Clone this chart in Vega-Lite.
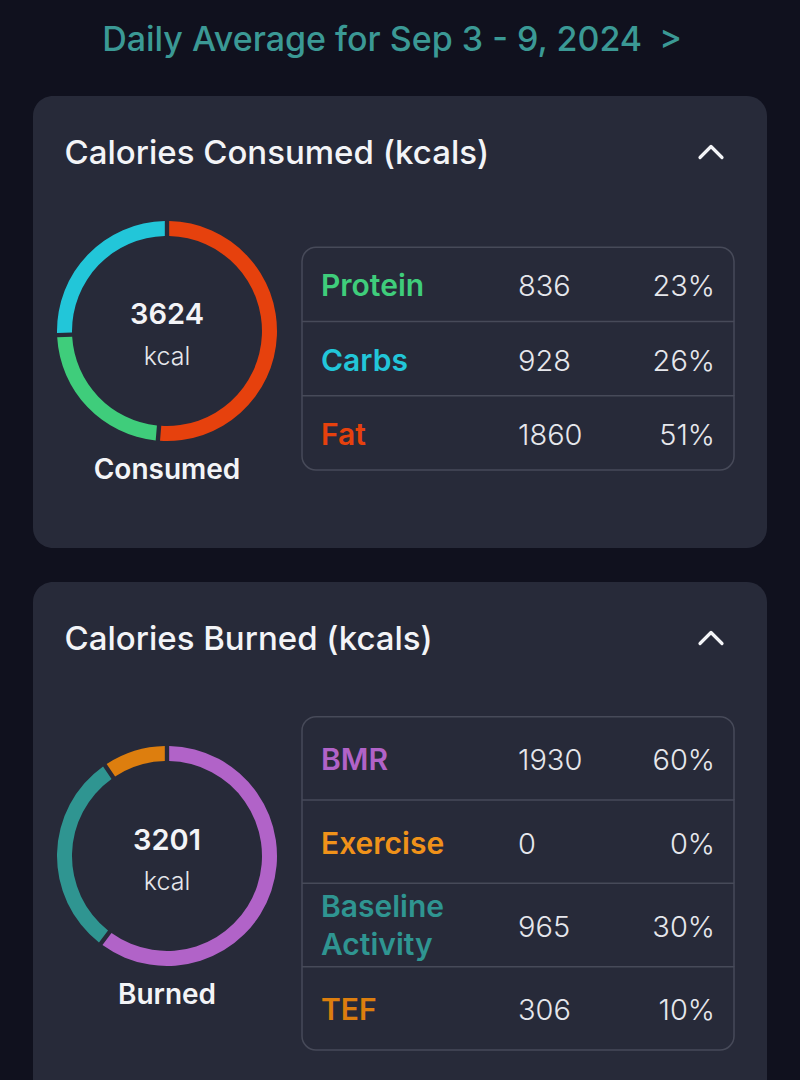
{
  "$schema": "https://vega.github.io/schema/vega-lite/v6.json",
  "background": "#10111e",
  "padding": {"left": 33, "right": 33, "top": 24, "bottom": 0},
  "title": {"text": "Daily Average for Sep 3 - 9, 2024\u2002>", "font": "Inter", "fontSize": 34, "fontWeight": 500, "color": "#3b9995", "anchor": "middle", "offset": 38, "dx": -8},
  "spacing": 34,
  "resolve": {"scale": {"color": "independent", "theta": "independent"}},
  "config": {"view": {"fill": "#272a39", "stroke": null, "cornerRadius": 20}},
  "datasets": {
    "cards": [
      {"card": "consumed", "title": "Calories Consumed (kcals)", "total": 3624, "unit": "kcal", "caption": "Consumed"},
      {"card": "burned", "title": "Calories Burned (kcals)", "total": 3201, "unit": "kcal", "caption": "Burned"}
    ],
    "parts": [
      {"card": "consumed", "item": "Fat", "kcal": 1860, "share": 0.51},
      {"card": "consumed", "item": "Protein", "kcal": 836, "share": 0.23},
      {"card": "consumed", "item": "Carbs", "kcal": 928, "share": 0.26},
      {"card": "burned", "item": "BMR", "kcal": 1930, "share": 0.60},
      {"card": "burned", "item": "Exercise", "kcal": 0, "share": 0},
      {"card": "burned", "item": "Baseline Activity", "kcal": 965, "share": 0.30},
      {"card": "burned", "item": "TEF", "kcal": 306, "share": 0.10}
    ]
  },
  "vconcat": [
    {
      "width": 734,
      "height": 452,
      "resolve": {"scale": {"x": "independent", "y": "independent"}},
      "layer": [
        {
          "data": {"name": "cards"},
          "transform": [{"filter": "datum.card === 'consumed'"}],
          "mark": {"type": "text", "align": "left", "baseline": "alphabetic", "font": "Inter", "fontSize": 33, "fontWeight": 500, "color": "#f3f4f7"},
          "encoding": {
            "x": {"field": "card", "type": "nominal", "axis": null, "scale": {"type": "point", "domain": ["consumed"], "align": 0.043}},
            "y": {"field": "card", "type": "nominal", "axis": null, "scale": {"type": "point", "domain": ["consumed"], "align": 0.15044}},
            "text": {"field": "title"}
          }
        },
        {
          "data": {"name": "cards"},
          "transform": [{"filter": "datum.card === 'consumed'"}],
          "mark": {"type": "point", "shape": "M-1,0.5L0,-0.5L1,0.5", "filled": false, "size": 484, "stroke": "#f3f4f7", "strokeWidth": 3.2, "strokeCap": "round", "strokeJoin": "round", "opacity": 1},
          "encoding": {
            "x": {"field": "card", "type": "nominal", "axis": null, "scale": {"type": "point", "domain": ["consumed"], "align": 0.92371}},
            "y": {"field": "card", "type": "nominal", "axis": null, "scale": {"type": "point", "domain": ["consumed"], "align": 0.12389}}
          }
        },
        {
          "encoding": {
            "x": {"field": "card", "type": "nominal", "axis": null, "scale": {"type": "point", "domain": ["consumed"], "align": 0.18256}},
            "y": {"field": "card", "type": "nominal", "axis": null, "scale": {"type": "point", "domain": ["consumed"], "align": 0.51991}}
          },
          "layer": [
            {
              "data": {"name": "parts"},
              "transform": [{"filter": "datum.card === 'consumed'"}, {"window": [{"op": "row_number", "as": "ring"}]}],
              "mark": {"type": "arc", "innerRadius": 95, "outerRadius": 110, "padAngle": 0.03},
              "encoding": {
                "theta": {"field": "kcal", "type": "quantitative", "stack": true},
                "order": {"field": "ring", "type": "quantitative"},
                "color": {"field": "item", "type": "nominal", "legend": null, "scale": {"domain": ["Protein", "Carbs", "Fat"], "range": ["#3fcd7b", "#22c6d9", "#e6410d"]}}
              }
            },
            {
              "data": {"name": "cards"},
              "transform": [{"filter": "datum.card === 'consumed'"}],
              "mark": {"type": "text", "align": "center", "baseline": "alphabetic", "dy": -7, "font": "Inter", "fontSize": 29, "fontWeight": 600, "color": "#f3f4f7"},
              "encoding": {"text": {"field": "total", "type": "quantitative", "format": "d"}}
            },
            {
              "data": {"name": "cards"},
              "transform": [{"filter": "datum.card === 'consumed'"}],
              "mark": {"type": "text", "align": "center", "baseline": "alphabetic", "dy": 34, "font": "Inter", "fontSize": 25, "fontWeight": 300, "color": "#e6e7ec"},
              "encoding": {"text": {"field": "unit"}}
            },
            {
              "data": {"name": "cards"},
              "transform": [{"filter": "datum.card === 'consumed'"}],
              "mark": {"type": "text", "align": "center", "baseline": "alphabetic", "dy": 148, "font": "Inter", "fontSize": 28, "fontWeight": 600, "color": "#f3f4f7"},
              "encoding": {"text": {"field": "caption"}}
            }
          ]
        },
        {
          "data": {"name": "cards"},
          "transform": [{"filter": "datum.card === 'consumed'"}],
          "mark": {"type": "rect", "fill": "transparent", "stroke": "#474a59", "strokeWidth": 1.5, "cornerRadius": 14},
          "encoding": {
            "x": {"field": "card", "type": "nominal", "axis": null, "scale": {"type": "band", "domain": ["consumed"], "paddingInner": 0, "paddingOuter": 0.34954, "align": 0.89073}},
            "y": {"field": "card", "type": "nominal", "axis": null, "scale": {"type": "band", "domain": ["consumed"], "paddingInner": 0, "paddingOuter": 0.51482, "align": 0.65983}}
          }
        },
        {
          "data": {"name": "parts"},
          "transform": [{"filter": "datum.card === 'consumed' && datum.item !== 'Protein'"}],
          "mark": {"type": "rect", "fill": "transparent", "stroke": "#474a59", "strokeWidth": 1.5, "strokeDash": [432, 4000]},
          "encoding": {
            "x": {"field": "card", "type": "nominal", "axis": null, "scale": {"type": "band", "domain": ["consumed"], "paddingInner": 0, "paddingOuter": 0.34954, "align": 0.89073}},
            "y": {"field": "item", "type": "nominal", "axis": null, "scale": {"type": "band", "domain": ["Protein", "Carbs", "Fat"], "paddingInner": 0, "paddingOuter": 0, "range": [151.3, 374]}}
          }
        },
        {
          "data": {"name": "parts"},
          "transform": [{"filter": "datum.card === 'consumed'"}],
          "encoding": {
            "y": {"field": "item", "type": "nominal", "axis": null, "scale": {"type": "band", "domain": ["Protein", "Carbs", "Fat"], "paddingInner": 0, "paddingOuter": 0, "range": [151.3, 374]}}
          },
          "layer": [
            {
              "mark": {"type": "text", "align": "left", "baseline": "middle", "dy": 3, "font": "Inter", "fontSize": 30, "fontWeight": 600},
              "encoding": {
                "x": {"datum": "label", "type": "nominal", "axis": null, "scale": {"type": "point", "domain": ["label", "kcal", "share"], "padding": 0.862944, "align": 0.847059}},
                "text": {"field": "item"},
                "color": {"field": "item", "type": "nominal", "legend": null, "scale": {"domain": ["Protein", "Carbs", "Fat"], "range": ["#3fcd7b", "#22c6d9", "#e6410d"]}}
              }
            },
            {
              "mark": {"type": "text", "align": "left", "baseline": "middle", "dy": 3, "font": "Inter", "fontSize": 29, "fontWeight": 300, "color": "#e6e7ec"},
              "encoding": {
                "x": {"datum": "kcal", "type": "nominal", "axis": null, "scale": {"type": "point", "domain": ["label", "kcal", "share"], "padding": 0.862944, "align": 0.847059}},
                "text": {"field": "kcal", "type": "quantitative", "format": "d"}
              }
            },
            {
              "mark": {"type": "text", "align": "right", "baseline": "middle", "dy": 3, "font": "Inter", "fontSize": 29, "fontWeight": 300, "color": "#e6e7ec"},
              "encoding": {
                "x": {"datum": "share", "type": "nominal", "axis": null, "scale": {"type": "point", "domain": ["label", "kcal", "share"], "padding": 0.862944, "align": 0.847059}},
                "text": {"field": "share", "type": "quantitative", "format": ".0%"}
              }
            }
          ]
        }
      ]
    },
    {
      "width": 734,
      "height": 546,
      "resolve": {"scale": {"x": "independent", "y": "independent"}},
      "layer": [
        {
          "data": {"name": "cards"},
          "transform": [{"filter": "datum.card === 'burned'"}],
          "mark": {"type": "text", "align": "left", "baseline": "alphabetic", "font": "Inter", "fontSize": 33, "fontWeight": 500, "color": "#f3f4f7"},
          "encoding": {
            "x": {"field": "card", "type": "nominal", "axis": null, "scale": {"type": "point", "domain": ["burned"], "align": 0.043}},
            "y": {"field": "card", "type": "nominal", "axis": null, "scale": {"type": "point", "domain": ["burned"], "align": 0.12454}},
            "text": {"field": "title"}
          }
        },
        {
          "data": {"name": "cards"},
          "transform": [{"filter": "datum.card === 'burned'"}],
          "mark": {"type": "point", "shape": "M-1,0.5L0,-0.5L1,0.5", "filled": false, "size": 484, "stroke": "#f3f4f7", "strokeWidth": 3.2, "strokeCap": "round", "strokeJoin": "round", "opacity": 1},
          "encoding": {
            "x": {"field": "card", "type": "nominal", "axis": null, "scale": {"type": "point", "domain": ["burned"], "align": 0.92371}},
            "y": {"field": "card", "type": "nominal", "axis": null, "scale": {"type": "point", "domain": ["burned"], "align": 0.10256}}
          }
        },
        {
          "encoding": {
            "x": {"field": "card", "type": "nominal", "axis": null, "scale": {"type": "point", "domain": ["burned"], "align": 0.18256}},
            "y": {"field": "card", "type": "nominal", "axis": null, "scale": {"type": "point", "domain": ["burned"], "align": 0.50183}}
          },
          "layer": [
            {
              "data": {"name": "parts"},
              "transform": [{"filter": "datum.card === 'burned'"}, {"window": [{"op": "row_number", "as": "ring"}]}],
              "mark": {"type": "arc", "innerRadius": 95, "outerRadius": 110, "padAngle": 0.03},
              "encoding": {
                "theta": {"field": "kcal", "type": "quantitative", "stack": true},
                "order": {"field": "ring", "type": "quantitative"},
                "color": {"field": "item", "type": "nominal", "legend": null, "scale": {"domain": ["BMR", "Exercise", "Baseline Activity", "TEF"], "range": ["#b163c8", "#f0921a", "#2f9591", "#dd7e0e"]}}
              }
            },
            {
              "data": {"name": "cards"},
              "transform": [{"filter": "datum.card === 'burned'"}],
              "mark": {"type": "text", "align": "center", "baseline": "alphabetic", "dy": -6, "font": "Inter", "fontSize": 29, "fontWeight": 600, "color": "#f3f4f7"},
              "encoding": {"text": {"field": "total", "type": "quantitative", "format": "d"}}
            },
            {
              "data": {"name": "cards"},
              "transform": [{"filter": "datum.card === 'burned'"}],
              "mark": {"type": "text", "align": "center", "baseline": "alphabetic", "dy": 34, "font": "Inter", "fontSize": 25, "fontWeight": 300, "color": "#e6e7ec"},
              "encoding": {"text": {"field": "unit"}}
            },
            {
              "data": {"name": "cards"},
              "transform": [{"filter": "datum.card === 'burned'"}],
              "mark": {"type": "text", "align": "center", "baseline": "alphabetic", "dy": 148, "font": "Inter", "fontSize": 28, "fontWeight": 600, "color": "#f3f4f7"},
              "encoding": {"text": {"field": "caption"}}
            }
          ]
        },
        {
          "data": {"name": "cards"},
          "transform": [{"filter": "datum.card === 'burned'"}],
          "mark": {"type": "rect", "fill": "transparent", "stroke": "#474a59", "strokeWidth": 1.5, "cornerRadius": 14},
          "encoding": {
            "x": {"field": "card", "type": "nominal", "axis": null, "scale": {"type": "band", "domain": ["burned"], "paddingInner": 0, "paddingOuter": 0.34954, "align": 0.89073}},
            "y": {"field": "card", "type": "nominal", "axis": null, "scale": {"type": "band", "domain": ["burned"], "paddingInner": 0, "paddingOuter": 0.31908, "align": 0.63329}}
          }
        },
        {
          "data": {"name": "parts"},
          "transform": [{"filter": "datum.card === 'burned' && datum.item !== 'BMR'"}],
          "mark": {"type": "rect", "fill": "transparent", "stroke": "#474a59", "strokeWidth": 1.5, "strokeDash": [432, 4000]},
          "encoding": {
            "x": {"field": "card", "type": "nominal", "axis": null, "scale": {"type": "band", "domain": ["burned"], "paddingInner": 0, "paddingOuter": 0.34954, "align": 0.89073}},
            "y": {"field": "item", "type": "nominal", "axis": null, "scale": {"type": "band", "domain": ["BMR", "Exercise", "Baseline Activity", "TEF"], "paddingInner": 0, "paddingOuter": 0, "range": [134.7, 468]}}
          }
        },
        {
          "data": {"name": "parts"},
          "transform": [{"filter": "datum.card === 'burned'"}],
          "encoding": {
            "y": {"field": "item", "type": "nominal", "axis": null, "scale": {"type": "band", "domain": ["BMR", "Exercise", "Baseline Activity", "TEF"], "paddingInner": 0, "paddingOuter": 0, "range": [134.7, 468]}}
          },
          "layer": [
            {
              "transform": [{"filter": "datum.item !== 'Baseline Activity'"}],
              "mark": {"type": "text", "align": "left", "baseline": "middle", "dy": 3, "font": "Inter", "fontSize": 30, "fontWeight": 600},
              "encoding": {
                "x": {"datum": "label", "type": "nominal", "axis": null, "scale": {"type": "point", "domain": ["label", "kcal", "share"], "padding": 0.862944, "align": 0.847059}},
                "text": {"field": "item"},
                "color": {"field": "item", "type": "nominal", "legend": null, "scale": {"domain": ["BMR", "Exercise", "Baseline Activity", "TEF"], "range": ["#b163c8", "#f0921a", "#2f9591", "#dd7e0e"]}}
              }
            },
            {
              "transform": [{"filter": "datum.item === 'Baseline Activity'"}],
              "mark": {"type": "text", "align": "left", "baseline": "middle", "dy": -17, "font": "Inter", "fontSize": 30, "fontWeight": 600, "lineBreak": " ", "lineHeight": 38},
              "encoding": {
                "x": {"datum": "label", "type": "nominal", "axis": null, "scale": {"type": "point", "domain": ["label", "kcal", "share"], "padding": 0.862944, "align": 0.847059}},
                "text": {"field": "item"},
                "color": {"field": "item", "type": "nominal", "legend": null, "scale": {"domain": ["BMR", "Exercise", "Baseline Activity", "TEF"], "range": ["#b163c8", "#f0921a", "#2f9591", "#dd7e0e"]}}
              }
            },
            {
              "mark": {"type": "text", "align": "left", "baseline": "middle", "dy": 3, "font": "Inter", "fontSize": 29, "fontWeight": 300, "color": "#e6e7ec"},
              "encoding": {
                "x": {"datum": "kcal", "type": "nominal", "axis": null, "scale": {"type": "point", "domain": ["label", "kcal", "share"], "padding": 0.862944, "align": 0.847059}},
                "text": {"field": "kcal", "type": "quantitative", "format": "d"}
              }
            },
            {
              "mark": {"type": "text", "align": "right", "baseline": "middle", "dy": 3, "font": "Inter", "fontSize": 29, "fontWeight": 300, "color": "#e6e7ec"},
              "encoding": {
                "x": {"datum": "share", "type": "nominal", "axis": null, "scale": {"type": "point", "domain": ["label", "kcal", "share"], "padding": 0.862944, "align": 0.847059}},
                "text": {"field": "share", "type": "quantitative", "format": ".0%"}
              }
            }
          ]
        }
      ]
    }
  ]
}
